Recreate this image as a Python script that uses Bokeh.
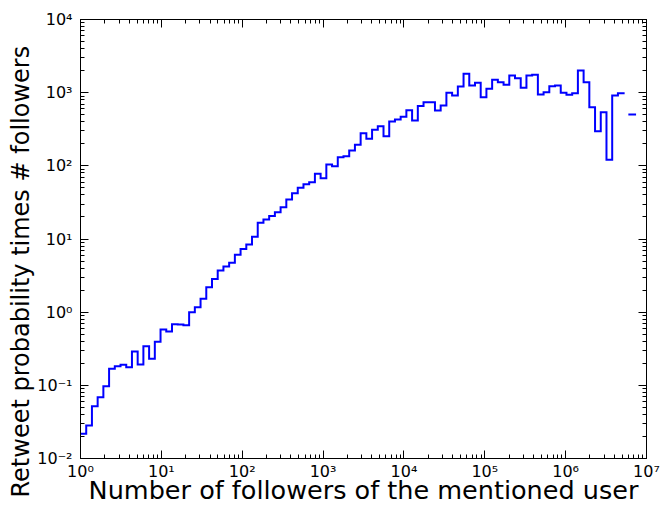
import numpy as np
from bokeh.plotting import figure
from bokeh.models import Range1d, FixedTicker, LogAxis, CustomJSTickFormatter, Title
from bokeh.embed import file_html
from bokeh.resources import INLINE

# ---- data -------------------------------------------------------------
n_bins = 99
bin_edges = np.logspace(0, 7, n_bins + 1)   # log-spaced histogram bins, 10^0 .. 10^7

values = [
    0.0218, 0.0283, 0.0519, 0.0689, 0.0973, 0.168, 0.183, 0.191, 0.177, 0.290,
    0.193, 0.343, 0.231, 0.394, 0.580, 0.544, 0.685, 0.680, 0.664, 1.00,
    1.17, 1.52, 2.19, 2.85, 3.70, 4.20, 4.75, 6.10, 7.30, 8.41,
    10.7, 16.7, 18.5, 20.6, 23.2, 27.2, 34.7, 42.3, 50.1, 56.1,
    59.7, 77.8, 67.8, 104, 98.9, 131, 135, 162, 194, 279,
    234, 311, 348, 254, 404, 430, 470, 575, 417, 655,
    741, 741, 570, 668, 995, 915, 1213, 1811, 1253, 1364,
    867, 1130, 1500, 1390, 1281, 1717, 1577, 1166, 1717, 1754,
    944, 1015, 1225, 1253, 995, 935, 984, 2009, 1390, 633,
    297, 541, 121, 915, 984, float("nan"), 503,
]

x_ticks = [1e0, 1e1, 1e2, 1e3, 1e4, 1e5, 1e6, 1e7]
y_ticks = [1e-2, 1e-1, 1e0, 1e1, 1e2, 1e3, 1e4]
x_label = "Number of followers of the mentioned user"
y_label = "Retweet probability times # followers"

# ---- step path built from bins ----------------------------------------
xs, ys = [], []
for i, v in enumerate(values):
    if np.isnan(v):
        xs.append(np.nan)
        ys.append(np.nan)
        continue
    xs += [bin_edges[i], bin_edges[i + 1]]
    ys += [v, v]
xs = np.array(xs)
ys = np.array(ys)

FONT = "DejaVu Sans"

p = figure(
    width=660, height=507,
    x_axis_type="log", y_axis_type="log",
    x_range=Range1d(1, 1e7), y_range=Range1d(1e-2, 1e4),
    output_backend="svg", toolbar_location=None,
    min_border_left=80, min_border_right=14, min_border_top=19, min_border_bottom=49,
)
p.grid.visible = False
p.outline_line_color = "black"
p.outline_line_width = 1
p.background_fill_color = "white"
p.border_fill_color = "white"

p.line(xs, ys, line_color="#0000ff", line_width=2, line_cap="square", line_join="miter")

sup_code = r"""
const e = Math.round(Math.log10(tick));
const m = {"-":"\u207b","0":"\u2070","1":"\u00b9","2":"\u00b2","3":"\u00b3","4":"\u2074",
           "5":"\u2075","6":"\u2076","7":"\u2077","8":"\u2078","9":"\u2079"};
return "10" + String(e).split("").map(c => m[c]).join("");
"""
blank_code = "return '';"


def minor_of(ticks):
    out = []
    for t in ticks[:-1]:
        out += [t * k for k in range(2, 10)]
    return out


def style(ax, ticks, labels, standoff=4):
    ax.ticker = FixedTicker(ticks=ticks, minor_ticks=minor_of(ticks))
    ax.axis_line_color = "black"
    ax.major_tick_in = 8
    ax.major_tick_out = 0
    ax.minor_tick_in = 4
    ax.minor_tick_out = 0
    ax.major_tick_line_color = "black"
    ax.minor_tick_line_color = "black"
    if labels:
        ax.formatter = CustomJSTickFormatter(code=sup_code)
        ax.major_label_text_font = FONT
        ax.major_label_text_font_size = "16px"
        ax.major_label_text_color = "black"
        ax.major_label_standoff = standoff
    else:
        ax.formatter = CustomJSTickFormatter(code=blank_code)
        ax.major_label_text_font_size = "0px"
        ax.major_label_standoff = 0


xax = p.xaxis[0]
yax = p.yaxis[0]
style(xax, x_ticks, True, standoff=3)
style(yax, y_ticks, True, standoff=8)

xax.axis_label = x_label
xax.axis_label_text_font = FONT
xax.axis_label_text_font_size = "25.5px"
xax.axis_label_text_font_style = "normal"
xax.axis_label_text_color = "black"
xax.axis_label_standoff = -9

top = LogAxis()
right = LogAxis()
style(top, x_ticks, False)
style(right, y_ticks, False)
p.add_layout(top, "above")
p.add_layout(right, "right")

ytitle = Title(text=y_label, align="left", offset=-39, standoff=0,
               text_font=FONT, text_font_size="24px", text_font_style="normal",
               text_color="black")
p.add_layout(ytitle, "left")

open("out.html", "w").write(file_html(p, INLINE))
